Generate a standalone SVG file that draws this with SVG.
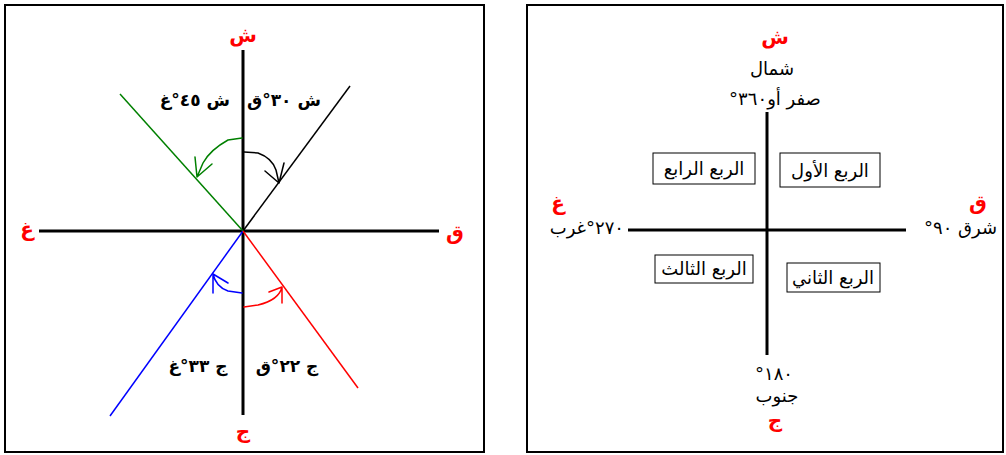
<svg xmlns="http://www.w3.org/2000/svg" width="1006" height="455" viewBox="0 0 1006 455">
<style>
.frame{fill:#fff;stroke:#000;stroke-width:2}
.axis{stroke:#000;stroke-width:3;fill:none}
.ray{stroke-width:1.5;fill:none}
.arc{stroke-width:1.5;fill:none;stroke-linejoin:round;stroke-linecap:round}
.red{font-family:"DejaVu Sans",sans-serif;font-weight:bold;font-size:20px;fill:#f00}
.lbl{font-family:"DejaVu Sans",sans-serif;font-weight:bold;font-size:17px;fill:#000}
.txt{font-family:"DejaVu Sans",sans-serif;font-size:18px;fill:#000}
.box{fill:#fff;stroke:#000;stroke-width:1}
</style>
<rect width="1006" height="455" fill="#fff"/>
<g id="left-panel">
<rect class="frame" x="5" y="5" width="479" height="447"/>
</g>
<g id="right-panel">
<rect class="frame" x="527" y="5" width="476" height="447"/>
</g>
<g id="connectors">
<line class="axis" x1="243" y1="50" x2="243" y2="415"/>
<line class="axis" x1="39" y1="231" x2="439" y2="231"/>
<line class="ray" stroke="#000" x1="243" y1="231" x2="350" y2="86"/>
<line class="ray" stroke="#008000" x1="243" y1="231" x2="120" y2="94"/>
<line class="ray" stroke="#00f" x1="243" y1="231" x2="110" y2="416"/>
<line class="ray" stroke="#f00" x1="243" y1="231" x2="358" y2="388"/>
<path class="arc" stroke="#000" d="M244,152 L258,153 Q272,158 276,170 L279,183 M265,171 L279,183 L284,163"/>
<path class="arc" stroke="#008000" d="M242,138 L228,140 Q210,150 203,163 L197,177 M195,157 L197,177 L212,164"/>
<path class="arc" stroke="#00f" d="M242,293 L228,291 Q216,287 213,274 M213,293 L213,274 L228,283"/>
<path class="arc" stroke="#f00" d="M244,307 L258,305 Q279,300 282,287 M269,292 L282,287 L282,303"/>
<line class="axis" x1="767" y1="112" x2="767" y2="355"/>
<line class="axis" x1="628" y1="230" x2="906" y2="230"/>
</g>
<g id="left-labels">
<text class="red" x="243" y="42" text-anchor="middle" direction="rtl">ش</text>
<text class="red" x="27" y="236" text-anchor="middle" direction="rtl">غ</text>
<text class="red" x="455" y="240" text-anchor="middle" direction="rtl">ق</text>
<text class="red" x="243" y="438" text-anchor="middle" direction="rtl">ج</text>
<text class="lbl" x="247" y="106" text-anchor="end" direction="rtl">ش ٣٠°ق</text>
<text class="lbl" x="230" y="106" text-anchor="start" direction="rtl">ش ٤٥°غ</text>
<text class="lbl" x="287" y="372" text-anchor="middle" direction="rtl">ج  ٢٢°ق</text>
<text class="lbl" x="198" y="372" text-anchor="middle" direction="rtl">ج ٣٣°غ</text>
</g>
<g id="north">
<text class="red" x="775" y="44" text-anchor="middle" direction="rtl">ش</text>
<text class="txt" x="772" y="75" text-anchor="middle" direction="rtl">شمال</text>
<text class="txt" x="775" y="105" text-anchor="middle" direction="rtl">صفر أو٣٦٠°</text>
</g>
<g id="south">
<text class="txt" x="774" y="380" text-anchor="middle" direction="rtl">١٨٠°</text>
<text class="txt" x="777" y="402" text-anchor="middle" direction="rtl">جنوب</text>
<text class="red" x="775" y="427" text-anchor="middle" direction="rtl">ج</text>
</g>
<g id="west">
<text class="red" x="558" y="210" text-anchor="middle" direction="rtl">غ</text>
<text class="txt" x="624" y="234" text-anchor="start" direction="rtl">٢٧٠°غرب</text>
</g>
<g id="east">
<text class="red" x="978" y="210" text-anchor="middle" direction="rtl">ق</text>
<text class="txt" x="924" y="234" text-anchor="end" direction="rtl">شرق ٩٠°</text>
</g>
<g id="q1">
<rect class="box" x="780" y="153" width="100" height="34"/>
<text class="txt" x="830" y="177" text-anchor="middle" direction="rtl">الربع الأول</text>
</g>
<g id="q4">
<rect class="box" x="653" y="153" width="102" height="31"/>
<text class="txt" x="704" y="175" text-anchor="middle" direction="rtl">الربع الرابع</text>
</g>
<g id="q3">
<rect class="box" x="655" y="255" width="98" height="28"/>
<text class="txt" x="704" y="275" text-anchor="middle" direction="rtl">الربع الثالث</text>
</g>
<g id="q2">
<rect class="box" x="787" y="263" width="93" height="29"/>
<text class="txt" x="833" y="284" text-anchor="middle" direction="rtl">الربع الثاني</text>
</g>
</svg>
